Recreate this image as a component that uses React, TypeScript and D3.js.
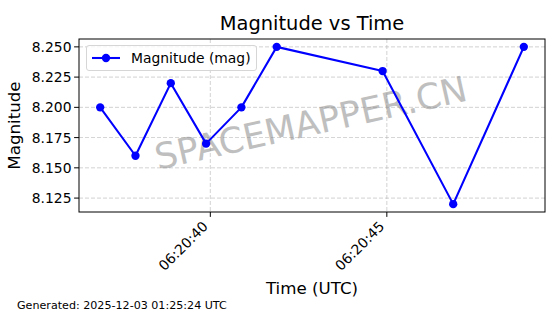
import React from "react";
import * as d3 from "d3";

const times: string[] = [
  "2025-12-03T06:20:36.880Z",
  "2025-12-03T06:20:37.880Z",
  "2025-12-03T06:20:38.880Z",
  "2025-12-03T06:20:39.880Z",
  "2025-12-03T06:20:40.880Z",
  "2025-12-03T06:20:41.880Z",
  "2025-12-03T06:20:44.880Z",
  "2025-12-03T06:20:46.880Z",
  "2025-12-03T06:20:48.880Z",
];
const magnitudes: number[] = [8.2, 8.16, 8.22, 8.17, 8.2, 8.25, 8.23, 8.12, 8.25];
const yTicks: number[] = [8.125, 8.15, 8.175, 8.2, 8.225, 8.25];
const xTicks: string[] = ["2025-12-03T06:20:40.000Z", "2025-12-03T06:20:45.000Z"];

const W = 560, H = 314;
const L = 79, R = 545, T = 39, B = 212;
const FONT = "'DejaVu Sans', sans-serif";
const PT = 100 / 72;

export default function App() {
  const dates = times.map((t) => new Date(t));
  const [t0, t1] = d3.extent(dates) as [Date, Date];
  const span = +t1 - +t0;
  const x = d3
    .scaleUtc()
    .domain([new Date(+t0 - span * 0.05), new Date(+t1 + span * 0.05)])
    .range([L, R]);
  const [ymin, ymax] = d3.extent(magnitudes) as [number, number];
  const yr = ymax - ymin;
  const y = d3.scaleLinear().domain([ymin - yr * 0.05, ymax + yr * 0.05]).range([B, T]);
  const line = d3
    .line<number>()
    .x((_, i) => x(dates[i]))
    .y((d) => y(d));
  const fmt = d3.utcFormat("%H:%M:%S");
  const xt = xTicks.map((t) => new Date(t));

  return (
    <svg width={W} height={H} style={{ position: "absolute", left: 0, top: 0 }} fontFamily={FONT}>
      <rect width={W} height={H} fill="#fff" />
      {/* grid */}
      {yTicks.map((v) => (
        <line key={"gy" + v} x1={L} x2={R} y1={y(v)} y2={y(v)} stroke="#b0b0b0" strokeWidth={0.8} strokeDasharray="4,2" opacity={0.7} />
      ))}
      {xt.map((d, i) => (
        <line key={"gx" + i} x1={x(d)} x2={x(d)} y1={T} y2={B} stroke="#b0b0b0" strokeWidth={0.8} strokeDasharray="4,2" opacity={0.7} />
      ))}
      {/* watermark */}
      <text
        x={313.5}
        y={135}
        textAnchor="middle"
        fontSize={35.5}
        fill="#808080"
        opacity={0.5}
        transform="rotate(-12.6 313.5 135)"
      >
        SPACEMAPPER.CN
      </text>
      {/* data */}
      <path d={line(magnitudes) || ""} fill="none" stroke="#0000ff" strokeWidth={1.5 * PT} strokeLinejoin="round" />
      {magnitudes.map((v, i) => (
        <circle key={i} cx={x(dates[i])} cy={y(v)} r={3 * PT} fill="#0000ff" />
      ))}
      {/* frame */}
      <rect x={L} y={T} width={R - L} height={B - T} fill="none" stroke="#000" strokeWidth={1} />
      {/* y ticks */}
      {yTicks.map((v) => (
        <g key={"yt" + v}>
          <line x1={L - 4.9} x2={L} y1={y(v)} y2={y(v)} stroke="#000" />
          <text x={L - 7.5} y={y(v)} dy="0.36em" textAnchor="end" fontSize={10 * PT}>
            {v.toFixed(3)}
          </text>
        </g>
      ))}
      {/* x ticks */}
      {xt.map((d, i) => (
        <g key={"xt" + i}>
          <line x1={x(d)} x2={x(d)} y1={B} y2={B + 4.9} stroke="#000" />
          <text
            x={x(d) - 9}
            y={B + 8}
            textAnchor="end"
            fontSize={10 * PT}
            dy="0.75em"
            transform={`rotate(-45 ${x(d) - 9} ${B + 8})`}
          >
            {fmt(d)}
          </text>
        </g>
      ))}
      {/* titles */}
      <text x={(L + R) / 2} y={30} textAnchor="middle" fontSize={14 * PT}>
        Magnitude vs Time
      </text>
      <text x={(L + R) / 2} y={294} textAnchor="middle" fontSize={12 * PT}>
        Time (UTC)
      </text>
      <text transform={`translate(20 ${(T + B) / 2}) rotate(-90)`} textAnchor="middle" fontSize={12 * PT}>
        Magnitude
      </text>
      {/* legend */}
      <rect x={86.5} y={45.5} width={170} height={25} rx={2.5} fill="#fff" fillOpacity={0.8} stroke="#d6d6d6" />
      <line x1={92} x2={120} y1={58} y2={58} stroke="#0000ff" strokeWidth={1.5 * PT} />
      <circle cx={106} cy={58} r={3 * PT} fill="#0000ff" />
      <text x={131} y={58} dy="0.36em" fontSize={10 * PT}>
        Magnitude (mag)
      </text>
      <text x={17} y={309} fontSize={8 * PT}>
        Generated: 2025-12-03 01:25:24 UTC
      </text>
    </svg>
  );
}
